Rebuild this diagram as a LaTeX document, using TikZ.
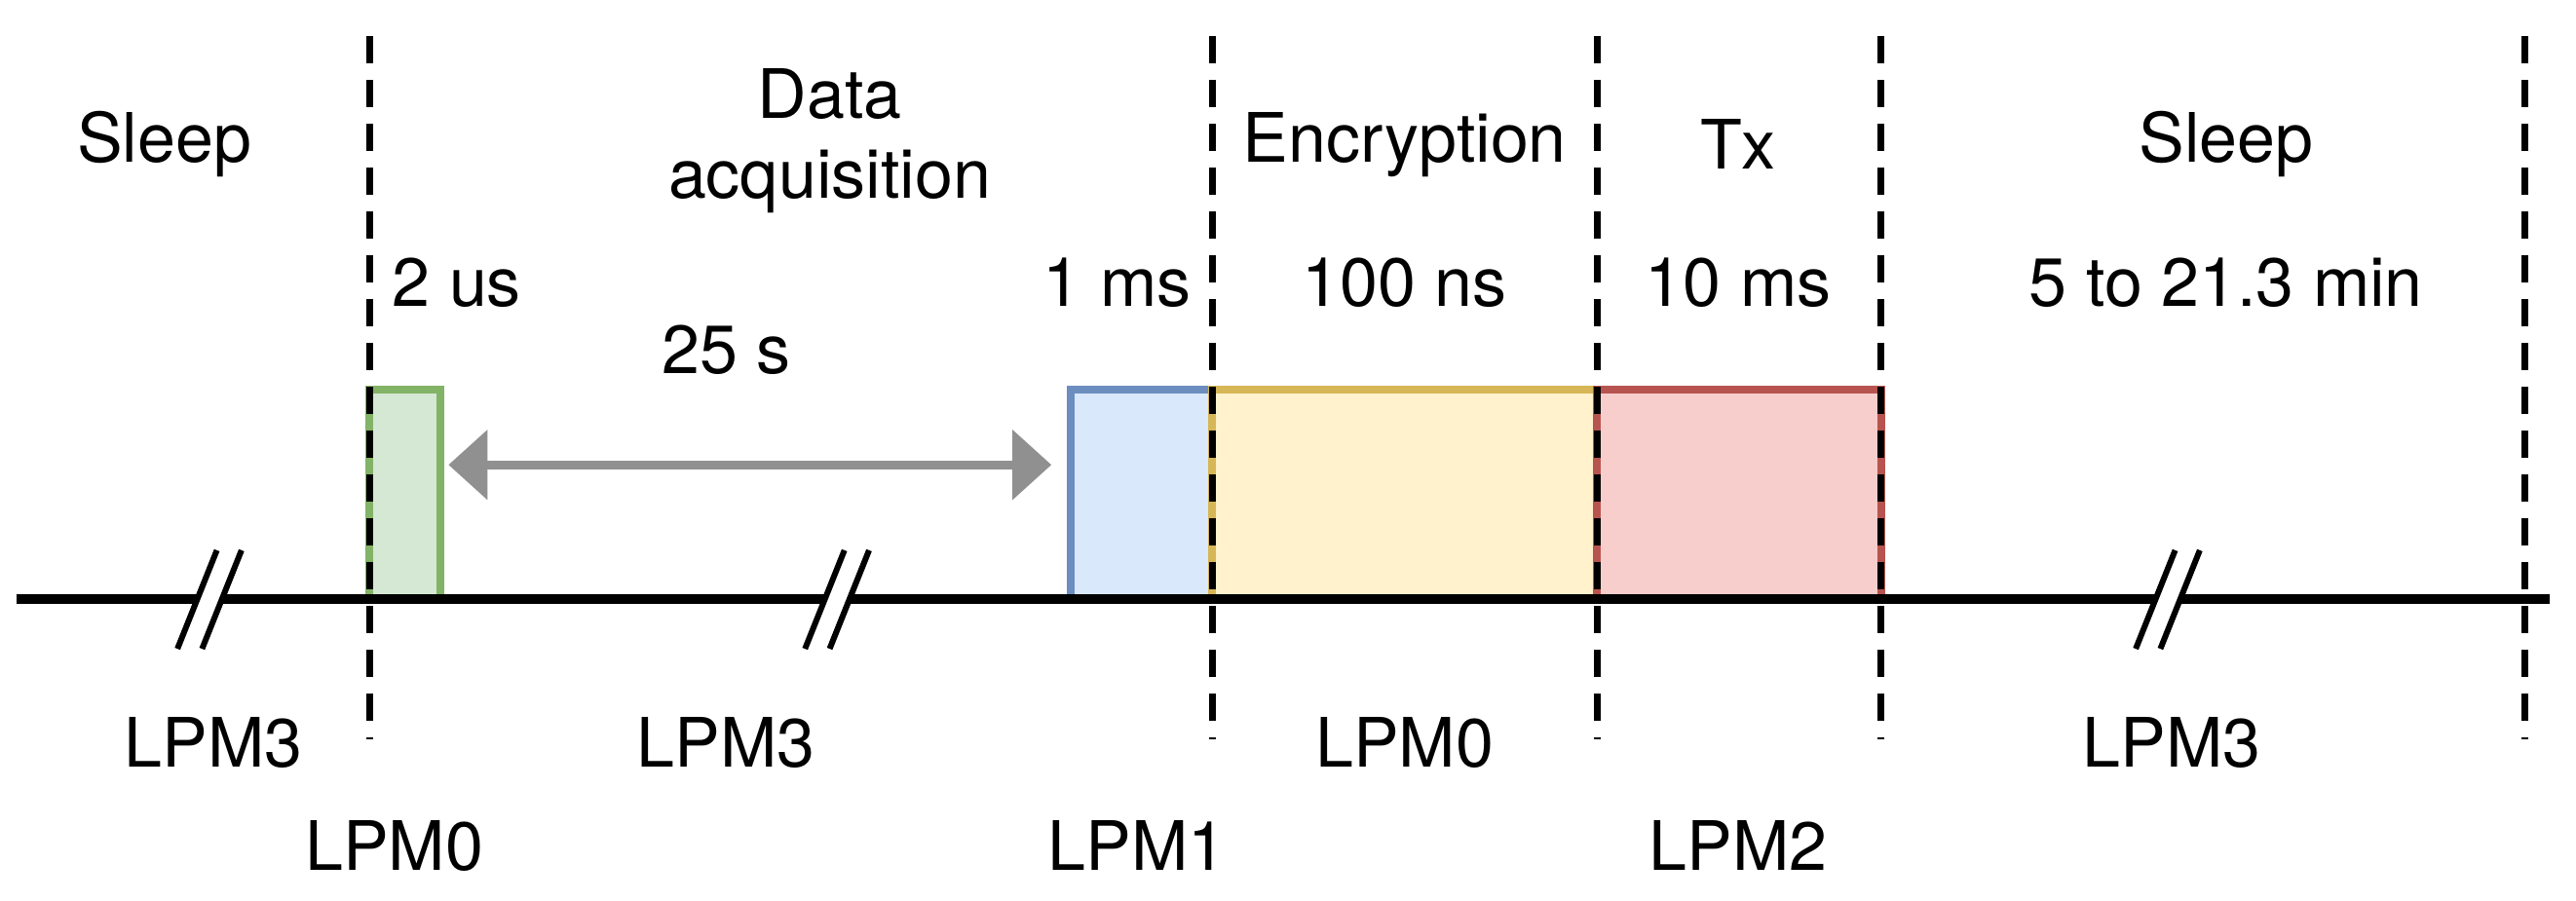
\documentclass[tikz,border=0pt]{standalone}
\usepackage{fontspec}
\setmainfont{TeX Gyre Heros}
\usetikzlibrary{arrows.meta}
\definecolor{gf}{HTML}{D5E8D4}\definecolor{gd}{HTML}{82B366}
\definecolor{bf}{HTML}{DAE8FC}\definecolor{bd}{HTML}{6C8EBF}
\definecolor{yf}{HTML}{FFF2CC}\definecolor{yd}{HTML}{D6B656}
\definecolor{rf}{HTML}{F8CECC}\definecolor{rd}{HTML}{B85450}
\definecolor{ar}{HTML}{909090}
\begin{document}
\begin{tikzpicture}[x=1.686pt,y=-1.686pt,
  lbl/.style={font=\fontsize{70}{82}\selectfont,align=center,inner sep=0pt},
  vdash/.style={line width=7pt,dash pattern=on 28pt off 17pt},
  phase/.style={line width=8pt}]
\useasboundingbox (0,0) rectangle (1568,548);
% boxes
\draw[phase,draw=gd,fill=gf] (225,365) rectangle (268,237);
\draw[phase,draw=bd,fill=bf] (652,365) rectangle (738,237);
\draw[phase,draw=yd,fill=yf] (738,365) rectangle (972,237);
\draw[phase,draw=rd,fill=rf] (972,365) rectangle (1145,237);
% baseline
\coordinate (L) at (10,365); \coordinate (R) at (1552,365);
\draw[line width=10pt] (L) -- (R);
% breaks
\foreach \bx in {128,510,1320}{
  \fill[white] (\bx-20,395) -- (\bx+4,335) -- (\bx+19,335) -- (\bx-5,395) -- cycle;
  \draw[line width=6pt] (\bx-20,395) -- (\bx+4,335);
  \draw[line width=6pt] (\bx-5,395) -- (\bx+19,335);
}
% dashed
\foreach \dx in {225,738,972,1145,1537}{
  \draw[vdash] (\dx,22) -- (\dx,450);
}
% arrow
\coordinate (a1) at (273,283); \coordinate (a2) at (640,283);
\draw[ar,line width=9pt,{Triangle[length=40pt,width=70pt]}-{Triangle[length=40pt,width=70pt]}] (a1) -- (a2);
% labels
\node[lbl] (s1) at (100,88) {Sleep};
\node[lbl] (da) at (505,86) {Data\\acquisition};
\node[lbl] (en) at (855,88) {Encryption};
\node[lbl] (tx) at (1058,88) {Tx};
\node[lbl] (s2) at (1355,88) {Sleep};
\node[lbl] (t1) at (278,172) {2 us};
\node[lbl] (t2) at (680,172) {1 ms};
\node[lbl] (t3) at (855,172) {100 ns};
\node[lbl] (t4) at (1058,172) {10 ms};
\node[lbl] (t5) at (1355,172) {5 to 21.3 min};
\node[lbl] (t6) at (442,213) {25 s};
\node[lbl] (p1) at (130,452) {LPM3};
\node[lbl] (p2) at (442,452) {LPM3};
\node[lbl] (p3) at (855,452) {LPM0};
\node[lbl] (p4) at (1322,452) {LPM3};
\node[lbl] (p5) at (240,515) {LPM0};
\node[lbl] (p6) at (692,515) {LPM1};
\node[lbl] (p7) at (1058,515) {LPM2};
\end{tikzpicture}
\end{document}
